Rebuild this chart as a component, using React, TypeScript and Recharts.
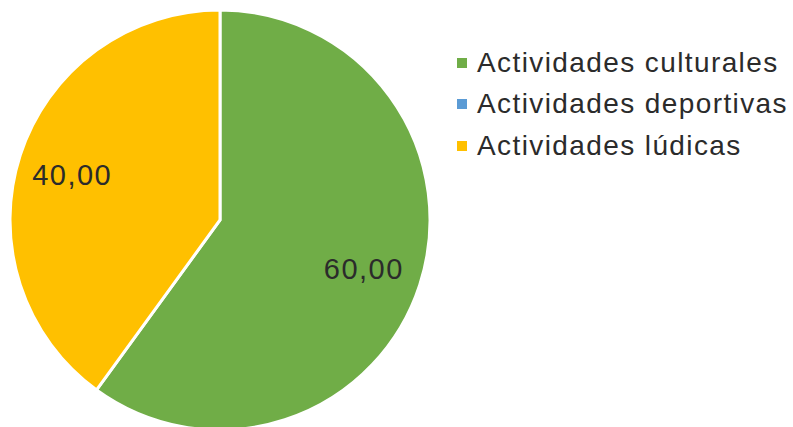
import React from "react";
import { PieChart, Pie, Cell, Legend } from "recharts";

const categories = ["Actividades culturales", "Actividades deportivas", "Actividades lúdicas"];
const values = [60, 0, 40];
const labels = ["60,00", "0,00", "40,00"];
const colors = ["#70AD47", "#5B9BD5", "#FFC000"];

const data = categories.map((name, i) => ({ name, value: values[i], label: labels[i] }));

const RAD = Math.PI / 180;

const renderLabel = (props: any) => {
  const { cx, cy, midAngle, outerRadius, index, value } = props;
  if (!value) return null;
  const r = outerRadius * 0.73;
  const x = cx + r * Math.cos(-midAngle * RAD);
  const y = cy + r * Math.sin(-midAngle * RAD);
  return (
    <text
      x={x - 2}
      y={y + 2}
      fill="#2b2b2b"
      textAnchor="middle"
      dominantBaseline="central"
      style={{ fontFamily: "'Liberation Sans', Arial, sans-serif", fontSize: 29, letterSpacing: 1.5 }}
    >
      {data[index].label}
    </text>
  );
};

const renderLegend = () => (
  <div style={{ fontFamily: "'Liberation Sans', Arial, sans-serif" }}>
    {data.map((d, i) => (
      <div key={d.name} style={{ display: "flex", alignItems: "center", height: 41.5 }}>
        <span style={{ width: 10, height: 10, background: colors[i], display: "inline-block", marginRight: 10 }} />
        <span style={{ fontSize: 28, letterSpacing: 1.4, color: "#2b2b2b", whiteSpace: "nowrap" }}>{d.name}</span>
      </div>
    ))}
  </div>
);

export default function App() {
  return (
    <div style={{ position: "absolute", left: 0, top: 0, width: 793, height: 427, background: "#fff" }}>
      <PieChart width={793} height={427} margin={{ top: 0, right: 0, bottom: 0, left: 0 }}>
        <Pie
          data={data}
          dataKey="value"
          nameKey="name"
          cx={220}
          cy={220}
          outerRadius={210}
          startAngle={90}
          endAngle={-270}
          stroke="#ffffff"
          strokeWidth={3}
          label={renderLabel}
          labelLine={false}
          isAnimationActive={false}
        >
          {data.map((d, i) => (
            <Cell key={d.name} fill={colors[i]} />
          ))}
        </Pie>
        <Legend
          content={renderLegend}
          layout="vertical"
          wrapperStyle={{ position: "absolute", left: 457, top: 42, width: 340 }}
        />
      </PieChart>
    </div>
  );
}
